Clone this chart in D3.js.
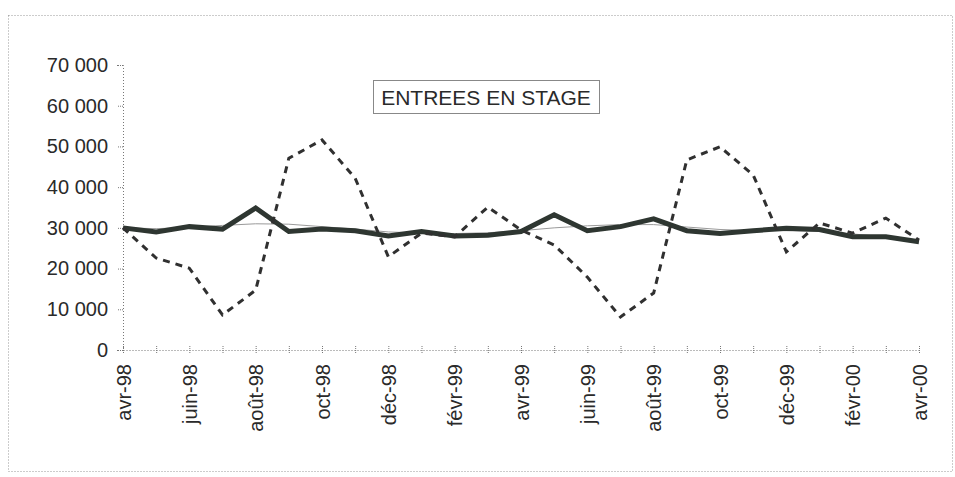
<!DOCTYPE html>
<html>
<head>
<meta charset="utf-8">
<script src="https://cdn.jsdelivr.net/npm/d3@7"></script>
<style>
  html, body { margin: 0; padding: 0; background: #fff; }
  svg { display: block; font-family: Arial, "Liberation Sans", sans-serif; }
</style>
</head>
<body>
<svg id="chart" width="955" height="477"></svg>
<script>
// monthly data, avr-98 .. avr-00
const months = ['avr-98', 'mai-98', 'juin-98', 'juil-98', 'août-98', 'sept-98', 'oct-98', 'nov-98', 'déc-98',
  'janv-99', 'févr-99', 'mars-99', 'avr-99', 'mai-99', 'juin-99', 'juil-99', 'août-99', 'sept-99', 'oct-99',
  'nov-99', 'déc-99', 'janv-00', 'févr-00', 'mars-00', 'avr-00'];

// raw entries (dashed)
const brut = [30000, 22600, 20100, 8600, 14700, 47100, 51600, 42200, 22900, 28700, 27800, 35100, 29500,
  25800, 17900, 8100, 14000, 46700, 49900, 43000, 24100, 31200, 28700, 32400, 27000];

// seasonally adjusted (thick)
const cvs = [30000, 29000, 30300, 29700, 34900, 29100, 29700, 29300, 28000, 29100, 28000, 28200, 29100,
  33200, 29300, 30300, 32200, 29300, 28600, 29300, 29900, 29600, 27800, 27800, 26600];

// trend (thin grey)
const tendance = [30000, 29800, 30100, 30600, 31000, 30900, 30300, 29700, 29000, 28700, 28600, 28800, 29300,
  30000, 30500, 30800, 30800, 30200, 29600, 29300, 29300, 29100, 28500, 27800, 27000];

const yTicks = [0, 10000, 20000, 30000, 40000, 50000, 60000, 70000];
const title = 'ENTREES EN STAGE';

const svg = d3.select('#chart');
const mLeft = 123, mRight = 919, mTop = 65, mBottom = 350;

// outer dotted frame
svg.append('rect')
  .attr('x', 8.5).attr('y', 15.5)
  .attr('width', 944).attr('height', 456)
  .attr('fill', 'none')
  .attr('stroke', '#999')
  .attr('stroke-width', 1)
  .attr('stroke-dasharray', '1,2');

const x = d3.scalePoint().domain(months).range([mLeft, mRight]);
const y = d3.scaleLinear().domain([0, 70000]).range([mBottom, mTop]);

const fmt = v => d3.format(',')(v).replace(/,/g, ' ');

// y axis
const yAxis = svg.append('g')
  .attr('transform', `translate(${mLeft},0)`)
  .call(d3.axisLeft(y).tickValues(yTicks).tickFormat(fmt).tickSize(6).tickPadding(9));
yAxis.select('.domain').attr('stroke', '#777').attr('stroke-dasharray', '1,2');
yAxis.selectAll('.tick line').attr('stroke', '#777').attr('stroke-dasharray', '1,1');
yAxis.selectAll('.tick text')
  .attr('font-size', 20)
  .attr('fill', '#2a2a2a');

// x axis
const xAxis = svg.append('g')
  .attr('transform', `translate(0,${mBottom})`)
  .call(d3.axisBottom(x).tickSize(4).tickSizeOuter(0)
    .tickFormat((d, i) => i % 2 === 0 ? d : ''));
xAxis.select('.domain').attr('stroke', '#777').attr('stroke-dasharray', '1,2');
xAxis.selectAll('.tick line').attr('y1', -4).attr('stroke', '#777').attr('stroke-dasharray', '1,1');
xAxis.selectAll('.tick text')
  .attr('font-size', 20)
  .attr('fill', '#2a2a2a')
  .attr('text-anchor', 'end')
  .attr('dy', '0.35em')
  .attr('transform', 'translate(0,14) rotate(-90)')
  .attr('x', 0).attr('y', 0);

const line = d3.line()
  .x((d, i) => x(months[i]))
  .y(d => y(d));

// trend
svg.append('path')
  .datum(tendance)
  .attr('d', line)
  .attr('fill', 'none')
  .attr('stroke', '#9a9a9a')
  .attr('stroke-width', 1);

// seasonally adjusted
svg.append('path')
  .datum(cvs)
  .attr('d', line)
  .attr('fill', 'none')
  .attr('stroke', '#2e3631')
  .attr('stroke-width', 5)
  .attr('stroke-linejoin', 'miter');

// raw
svg.append('path')
  .datum(brut)
  .attr('d', line)
  .attr('fill', 'none')
  .attr('stroke', '#303030')
  .attr('stroke-width', 3)
  .attr('stroke-dasharray', '7,6');

// title box
const tg = svg.append('g');
tg.append('rect')
  .attr('x', 373.5).attr('y', 80.5)
  .attr('width', 226).attr('height', 33)
  .attr('fill', '#fff')
  .attr('stroke', '#888')
  .attr('stroke-width', 1);
tg.append('text')
  .attr('x', 486).attr('y', 97)
  .attr('text-anchor', 'middle')
  .attr('dominant-baseline', 'central')
  .attr('font-size', 21)
  .attr('fill', '#2a2a2a')
  .text(title);
</script>
</body>
</html>
